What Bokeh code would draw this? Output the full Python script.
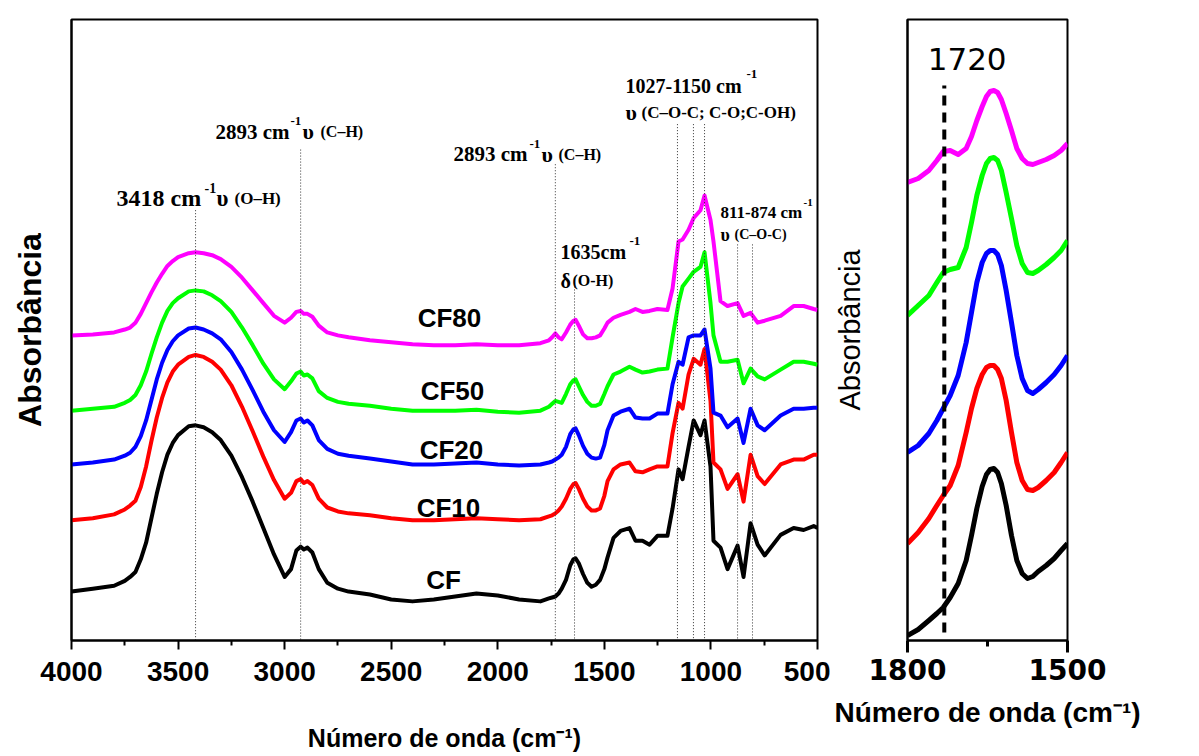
from bokeh.plotting import figure
from bokeh.models import Range1d, FixedTicker, Label
from bokeh.layouts import row
from bokeh.embed import file_html
from bokeh.resources import INLINE

# ---------------- data: full spectrum (left panel) ----------------
wavenumber = [4000, 3900, 3800, 3750, 3725, 3700, 3675, 3650, 3625, 3600,
              3575, 3550, 3525, 3500, 3450, 3418, 3380, 3340, 3300, 3250,
              3200, 3150, 3100, 3050, 3000, 2970, 2945, 2925, 2910, 2893,
              2870, 2840, 2800, 2750, 2700, 2600, 2500, 2400, 2300, 2200,
              2100, 2000, 1900, 1800, 1760, 1745, 1730, 1715, 1700, 1680,
              1660, 1645, 1635, 1620, 1600, 1580, 1560, 1540, 1520, 1500,
              1485, 1457, 1424, 1382, 1354, 1321, 1288, 1251, 1204, 1180,
              1152, 1133, 1105, 1081, 1049, 1030, 1002, 988, 955, 922,
              875, 847, 814, 781, 748, 673, 612, 565, 518, 500]

cf = [0.50, 0.53, 0.56, 0.61, 0.65, 0.70, 0.83, 1.00, 1.25, 1.50,
      1.72, 1.90, 2.02, 2.10, 2.19, 2.20, 2.18, 2.13, 2.05, 1.89,
      1.67, 1.42, 1.15, 0.88, 0.65, 0.73, 0.92, 0.96, 0.93, 0.95,
      0.90, 0.73, 0.59, 0.53, 0.50, 0.47, 0.42, 0.40, 0.42, 0.45,
      0.48, 0.46, 0.42, 0.40, 0.43, 0.44, 0.45, 0.48, 0.53, 0.62,
      0.77, 0.83, 0.84, 0.79, 0.68, 0.59, 0.55, 0.57, 0.62, 0.73,
      0.85, 1.05, 1.12, 1.15, 1.02, 1.02, 0.98, 1.07, 1.07, 1.35,
      1.75, 1.65, 1.98, 2.25, 2.10, 2.25, 1.78, 1.02, 0.95, 0.73,
      0.97, 0.65, 1.20, 0.98, 0.87, 1.08, 1.15, 1.13, 1.17, 1.15]

cf10 = [1.23, 1.25, 1.29, 1.34, 1.38, 1.43, 1.57, 1.78, 2.04, 2.28,
        2.48, 2.64, 2.75, 2.82, 2.90, 2.92, 2.90, 2.85, 2.77, 2.61,
        2.39, 2.14, 1.88, 1.64, 1.45, 1.51, 1.63, 1.65, 1.61, 1.63,
        1.59, 1.45, 1.36, 1.32, 1.30, 1.28, 1.25, 1.23, 1.23, 1.24,
        1.25, 1.24, 1.23, 1.24, 1.27, 1.28, 1.30, 1.33, 1.37, 1.45,
        1.55, 1.60, 1.61, 1.55, 1.45, 1.37, 1.33, 1.33, 1.35, 1.48,
        1.63, 1.75, 1.80, 1.82, 1.73, 1.72, 1.75, 1.78, 1.78, 2.12,
        2.43, 2.37, 2.72, 2.88, 2.82, 2.98, 2.45, 1.82, 1.75, 1.55,
        1.70, 1.42, 1.90, 1.68, 1.60, 1.80, 1.85, 1.85, 1.90, 1.90]

cf20 = [1.80, 1.82, 1.85, 1.89, 1.92, 1.98, 2.09, 2.25, 2.46, 2.67,
        2.84, 2.97, 3.06, 3.12, 3.19, 3.20, 3.18, 3.14, 3.08, 2.95,
        2.77, 2.56, 2.34, 2.15, 2.03, 2.13, 2.25, 2.27, 2.23, 2.25,
        2.20, 2.05, 1.96, 1.91, 1.89, 1.86, 1.83, 1.80, 1.80, 1.81,
        1.82, 1.80, 1.79, 1.80, 1.82, 1.83, 1.85, 1.87, 1.90, 1.98,
        2.11, 2.16, 2.17, 2.10, 1.99, 1.91, 1.87, 1.86, 1.87, 2.00,
        2.15, 2.30, 2.34, 2.37, 2.28, 2.27, 2.27, 2.32, 2.32, 2.62,
        2.85, 2.82, 3.10, 3.12, 3.12, 3.18, 2.78, 2.33, 2.30, 2.18,
        2.27, 2.02, 2.37, 2.20, 2.15, 2.30, 2.37, 2.37, 2.38, 2.38]

cf50 = [2.35, 2.37, 2.39, 2.43, 2.46, 2.51, 2.61, 2.75, 2.93, 3.10,
        3.25, 3.37, 3.45, 3.50, 3.57, 3.58, 3.57, 3.53, 3.47, 3.36,
        3.20, 3.02, 2.83, 2.67, 2.57, 2.65, 2.73, 2.75, 2.71, 2.72,
        2.68, 2.55, 2.48, 2.44, 2.42, 2.40, 2.37, 2.35, 2.35, 2.35,
        2.36, 2.34, 2.33, 2.35, 2.39, 2.42, 2.45, 2.44, 2.43, 2.52,
        2.62, 2.66, 2.67, 2.60, 2.51, 2.44, 2.40, 2.40, 2.42, 2.52,
        2.60, 2.72, 2.75, 2.80, 2.77, 2.74, 2.75, 2.77, 2.78, 3.10,
        3.45, 3.62, 3.70, 3.77, 3.82, 3.97, 3.45, 3.12, 2.85, 2.85,
        2.87, 2.63, 2.78, 2.70, 2.67, 2.77, 2.85, 2.85, 2.83, 2.82]

cf80 = [3.12, 3.13, 3.15, 3.18, 3.20, 3.25, 3.34, 3.45, 3.56, 3.66,
        3.75, 3.83, 3.88, 3.92, 3.96, 3.97, 3.96, 3.94, 3.90, 3.82,
        3.71, 3.58, 3.45, 3.32, 3.25, 3.30, 3.36, 3.37, 3.34, 3.34,
        3.31, 3.22, 3.15, 3.12, 3.10, 3.07, 3.05, 3.03, 3.02, 3.02,
        3.03, 3.02, 3.02, 3.04, 3.07, 3.10, 3.14, 3.10, 3.08, 3.15,
        3.23, 3.27, 3.28, 3.22, 3.13, 3.09, 3.09, 3.10, 3.12, 3.19,
        3.25, 3.30, 3.33, 3.36, 3.39, 3.36, 3.37, 3.39, 3.38, 3.60,
        4.08, 4.10, 4.20, 4.32, 4.40, 4.55, 4.30, 4.08, 3.47, 3.42,
        3.45, 3.32, 3.35, 3.25, 3.27, 3.32, 3.42, 3.42, 3.39, 3.38]

series_names = ["CF", "CF10", "CF20", "CF50", "CF80"]
series_colors = ["#000000", "#ff0000", "#0000ff", "#00ff00", "#ff00ff"]

# ---------------- data: zoom 1800-1500 (right panel) ----------------
zoom_wavenumber = [1800, 1780, 1760, 1745, 1733, 1720, 1705, 1690, 1680, 1670,
                   1660, 1652, 1645, 1638, 1631, 1624, 1615, 1605, 1595, 1585,
                   1575, 1565, 1555, 1540, 1525, 1512, 1500]
zoom_cf = [0.05, 0.11, 0.20, 0.27, 0.33, 0.43, 0.57, 0.80, 1.05, 1.32,
           1.54, 1.66, 1.71, 1.72, 1.68, 1.57, 1.35, 1.05, 0.80, 0.67,
           0.62, 0.64, 0.69, 0.75, 0.82, 0.90, 0.97]
zoom_cf10 = [0.97, 1.08, 1.22, 1.35, 1.45, 1.55, 1.75, 2.08, 2.32, 2.52,
             2.66, 2.73, 2.75, 2.75, 2.71, 2.62, 2.40, 2.08, 1.78, 1.60,
             1.51, 1.50, 1.53, 1.60, 1.68, 1.78, 1.88]
zoom_cf20 = [1.88, 1.95, 2.07, 2.20, 2.32, 2.45, 2.65, 2.98, 3.28, 3.58,
             3.78, 3.87, 3.90, 3.90, 3.86, 3.75, 3.50, 3.18, 2.85, 2.62,
             2.50, 2.47, 2.51, 2.58, 2.66, 2.75, 2.85]
zoom_cf50 = [3.25, 3.35, 3.45, 3.58, 3.68, 3.71, 3.73, 3.93, 4.18, 4.45,
             4.65, 4.77, 4.82, 4.83, 4.80, 4.70, 4.48, 4.22, 3.95, 3.77,
             3.68, 3.67, 3.70, 3.76, 3.83, 3.90, 4.00]
zoom_cf80 = [4.58, 4.62, 4.70, 4.80, 4.89, 4.90, 4.86, 4.92, 5.04, 5.20,
             5.34, 5.44, 5.49, 5.50, 5.48, 5.41, 5.27, 5.10, 4.92, 4.82,
             4.77, 4.76, 4.78, 4.81, 4.85, 4.90, 4.97]

carbonyl_wn = 1731
carbonyl_label = "1720"

# band marker lines (wavenumber) in the left panel
band_wn = [3418, 2925, 1730, 1640, 1157, 1082, 1030, 875, 805]

left_ticks = [4000, 3500, 3000, 2500, 2000, 1500, 1000, 500]
left_minor = [3750, 3250, 2750, 2250, 1750, 1250, 750]
right_ticks = [1800, 1500]
right_minor = [1650]

x_title = "Número de onda (cm⁻¹)"
y_title = "Absorbância"

SERIF = "Liberation Serif"
SANS = "Liberation Sans"

# ---------------- left figure ----------------
L_X0, L_X1, L_TOP, L_BOT = 71, 817, 10, 645
p = figure(width=830, height=756, x_range=Range1d(4000, 500), y_range=Range1d(0, 6.35),
           output_backend="svg", toolbar_location=None,
           min_border_left=L_X0, min_border_right=830 - L_X1,
           min_border_top=L_TOP, min_border_bottom=756 - L_BOT)
p.xgrid.visible = False
p.ygrid.visible = False
p.outline_line_color = "black"
p.outline_line_width = 2
p.outline_line_alpha = 1

def lx(px):
    return 4000 - (px - L_X0) * 3500 / (L_X1 - L_X0)

def ly(py):
    return (L_BOT - py) / 100.0

for vals, col in zip([cf, cf10, cf20, cf50, cf80], series_colors):
    p.line(wavenumber, vals, line_color=col, line_width=4, line_join="round")

# dotted band lines
band_tops = [205, 143, 158, 283, 117, 117, 117, 240, 240]
p.segment(x0=band_wn, y0=[ly(t) for t in band_tops], x1=band_wn, y1=[0] * len(band_wn),
          line_color="#333333", line_width=1, line_dash="1 2")

xa = p.xaxis[0]
xa.ticker = FixedTicker(ticks=left_ticks, minor_ticks=left_minor)
xa.axis_line_width = 2
xa.major_tick_line_width = 2
xa.minor_tick_line_width = 2
xa.major_tick_out = 9
xa.major_tick_in = 0
xa.minor_tick_out = 5
xa.minor_tick_in = 0
xa.major_label_text_font = SANS
xa.major_label_text_font_style = "bold"
xa.major_label_text_font_size = "28px"
xa.major_label_text_color = "black"
xa.major_label_standoff = 12
xa.axis_label = x_title
xa.axis_label_text_font = SANS
xa.axis_label_text_font_style = "bold"
xa.axis_label_text_font_size = "25px"
xa.axis_label_text_color = "black"
xa.axis_label_standoff = 40

ya = p.yaxis[0]
ya.ticker = FixedTicker(ticks=[])
ya.axis_line_width = 2
ya.major_tick_line_color = None
ya.minor_tick_line_color = None
ya.axis_label = y_title
ya.axis_label_text_font = SANS
ya.axis_label_text_font_style = "bold"
ya.axis_label_text_font_size = "32px"
ya.axis_label_text_color = "black"
ya.axis_label_standoff = 24

def txt(fig, fx, fy, px, py, text, size, font=SERIF, style="bold", baseline="alphabetic",
        align="left", color="black"):
    fig.add_layout(Label(x=fx(px), y=fy(py), text=text, text_font=font,
                         text_font_size=f"{size}px", text_font_style=style,
                         text_baseline=baseline, text_align=align, text_color=color))

# band annotations (serif)
pieces = [
    (116, 193, "3418 cm", 24), (204, 182, "-1", 14), (216, 193, "υ", 23), (234, 193, "(O–H)", 17),
    (215, 125, "2893 cm", 21), (290, 114, "-1", 13), (302, 125, "υ", 22), (320, 125, "(C–H)", 16),
    (453, 148, "2893 cm", 21), (529, 137, "-1", 13), (541, 148, "υ", 22), (558, 148, "(C–H)", 16),
    (625, 78, "1027-1150 cm", 20), (746, 66, "-1", 13), (625, 105, "υ", 22),
    (641, 105, "(C–O-C; C-O;C-OH)", 17),
    (560, 248, "1635cm", 20), (629, 236, "-1", 13), (560, 277, "δ", 20), (572, 277, "(O-H)", 16),
    (720, 207, "811-874 cm", 17), (803, 197, "-1", 11), (720, 230, "υ", 18), (734, 230, "(C–O-C)", 14),
]
for px, py, t, s in pieces:
    txt(p, lx, ly, px, py, t, s)

# series labels
label_pos = [(443, 583), (448, 510), (451, 450), (452, 390), (449, 315)]
for name, (px, py) in zip(series_names, label_pos):
    txt(p, lx, ly, px, py, name, 26, font=SANS, baseline="middle", align="center")

# ---------------- right figure ----------------
R_X0, R_X1, R_TOP, R_BOT = 76, 1067 - 830, 19, 640
p2 = figure(width=369, height=756, x_range=Range1d(1800, 1500), y_range=Range1d(0, 6.21),
            output_backend="svg", toolbar_location=None,
            min_border_left=R_X0, min_border_right=369 - R_X1,
            min_border_top=R_TOP, min_border_bottom=756 - R_BOT)
p2.xgrid.visible = False
p2.ygrid.visible = False
p2.outline_line_color = "black"
p2.outline_line_width = 2
p2.outline_line_alpha = 1

for vals, col in zip([zoom_cf, zoom_cf10, zoom_cf20, zoom_cf50, zoom_cf80], series_colors):
    p2.line(zoom_wavenumber, vals, line_color=col, line_width=5, line_join="round")

p2.segment(x0=[carbonyl_wn], y0=[0.08], x1=[carbonyl_wn], y1=[5.55],
           line_color="black", line_width=4, line_dash="10 7")

def rx(px):
    return 1800 - (px - 906) * 300 / 161

def ry(py):
    return (R_BOT - py) / 100.0

txt(p2, rx, ry, 966, 58, carbonyl_label, 31, font="DejaVu Sans", style="normal",
    baseline="middle", align="center")

xb = p2.xaxis[0]
xb.ticker = FixedTicker(ticks=right_ticks, minor_ticks=right_minor)
xb.axis_line_width = 2
xb.major_tick_line_width = 3
xb.minor_tick_line_width = 3
xb.major_tick_out = 12
xb.major_tick_in = 0
xb.minor_tick_out = 6
xb.minor_tick_in = 0
xb.major_label_text_font = "DejaVu Sans"
xb.major_label_text_font_style = "bold"
xb.major_label_text_font_size = "28px"
xb.major_label_text_color = "black"
xb.major_label_standoff = 6
xb.axis_label = x_title
xb.axis_label_text_font = SANS
xb.axis_label_text_font_style = "bold"
xb.axis_label_text_font_size = "28px"
xb.axis_label_text_color = "black"
xb.axis_label_standoff = 14

yb = p2.yaxis[0]
yb.ticker = FixedTicker(ticks=[])
yb.axis_line_width = 2
yb.major_tick_line_color = None
yb.minor_tick_line_color = None
yb.axis_label = y_title
yb.axis_label_text_font = SANS
yb.axis_label_text_font_style = "normal"
yb.axis_label_text_font_size = "29px"
yb.axis_label_text_color = "black"
yb.axis_label_standoff = 42

layout = row(p, p2, spacing=0)
open("out.html", "w").write(file_html(layout, INLINE))
